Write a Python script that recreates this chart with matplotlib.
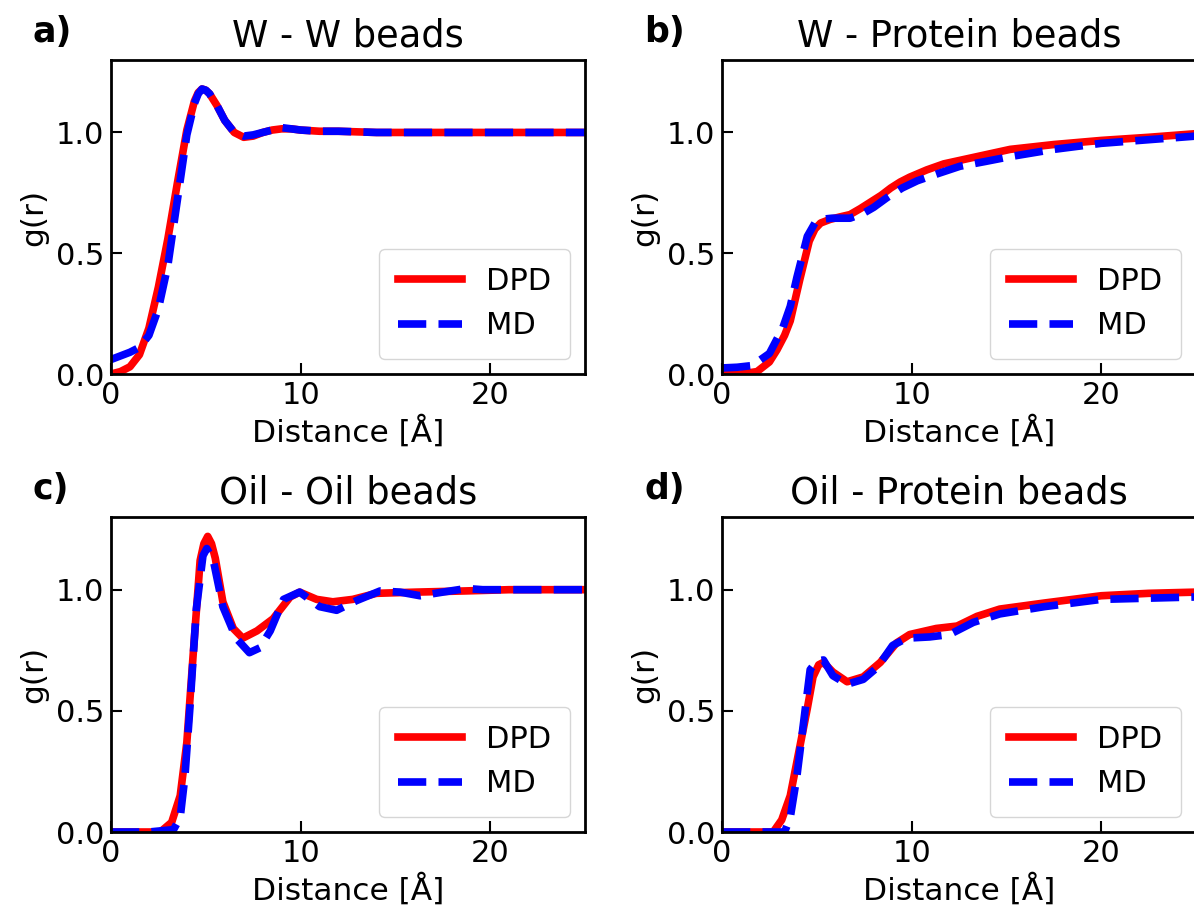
import matplotlib
matplotlib.use("Agg")
import matplotlib.pyplot as plt

# radial distribution functions g(r)
TITLES = ["W - W beads", "W - Protein beads", "Oil - Oil beads", "Oil - Protein beads"]
PANEL_TAGS = ["a)", "b)", "c)", "d)"]

ww_dpd_r = [0, 0.5, 1.0, 1.5, 2.0, 2.5, 3.0, 3.5, 4.0, 4.4, 4.6, 4.8, 5.0, 5.2, 5.6, 6.0, 6.5,
            7.0, 7.5, 8.0, 8.5, 9.0, 9.5, 10, 11, 12, 14, 16, 18, 20, 22, 25]
ww_dpd_g = [0.0, 0.01, 0.03, 0.08, 0.19, 0.36, 0.56, 0.79, 1.01, 1.13, 1.165, 1.18, 1.175,
            1.16, 1.11, 1.05, 1.00, 0.98, 0.985, 1.0, 1.01, 1.015, 1.015, 1.01, 1.005, 1.005,
            1.0, 1.0, 1.0, 1.0, 1.0, 1.0]
ww_md_r = [0, 0.5, 1.0, 1.5, 2.0, 2.5, 3.0, 3.5, 4.0, 4.4, 4.6, 4.8, 5.0, 5.2, 5.6, 6.0, 6.5,
           7.0, 7.5, 8.0, 8.5, 9.0, 9.5, 10, 11, 12, 14, 16, 18, 20, 22, 25]
ww_md_g = [0.06, 0.075, 0.09, 0.11, 0.16, 0.27, 0.45, 0.72, 0.99, 1.12, 1.16, 1.18, 1.175,
           1.16, 1.11, 1.05, 1.0, 0.985, 0.99, 1.0, 1.01, 1.02, 1.015, 1.01, 1.005, 1.005,
           1.0, 1.0, 1.0, 1.0, 1.0, 1.0]

wp_dpd_r = [0, 1.0, 1.85, 2.5, 2.9, 3.3, 3.6, 4.1, 4.6, 4.9, 5.2, 5.7, 6.2, 6.75, 7.3, 7.8,
            8.4, 8.9, 9.4, 9.9, 10.8, 11.7, 13.45, 15.2, 17.5, 20, 22.5, 25]
wp_dpd_g = [0.0, 0.0, 0.01, 0.05, 0.1, 0.16, 0.22, 0.39, 0.55, 0.60, 0.625, 0.64, 0.65, 0.66,
            0.685, 0.71, 0.74, 0.77, 0.795, 0.815, 0.845, 0.87, 0.90, 0.93, 0.95, 0.967,
            0.98, 0.995]
wp_md_r = [0, 0.8, 1.6, 2.5, 3.2, 3.6, 3.95, 4.5, 4.9, 5.2, 5.8, 6.75, 7.45, 8.0, 8.7, 9.5,
           10.3, 11.4, 12.55, 13.9, 15.2, 17.5, 20, 22.5, 25]
wp_md_g = [0.025, 0.028, 0.035, 0.085, 0.19, 0.28, 0.40, 0.57, 0.625, 0.64, 0.645, 0.645,
           0.665, 0.69, 0.73, 0.77, 0.80, 0.83, 0.86, 0.88, 0.90, 0.93, 0.955, 0.97, 0.985]

oo_dpd_r = [0, 2.0, 2.6, 3.2, 3.65, 4.0, 4.35, 4.7, 4.9, 5.1, 5.3, 5.5, 5.9, 6.45, 6.95,
            7.7, 8.55, 9.45, 9.95, 10.85, 11.7, 12.75, 14.0, 16.1, 18.75, 21, 25]
oo_dpd_g = [0.0, 0.0, 0.0, 0.04, 0.15, 0.37, 0.75, 1.12, 1.19, 1.22, 1.19, 1.13, 0.95, 0.84,
            0.80, 0.83, 0.88, 0.97, 0.99, 0.96, 0.95, 0.96, 0.985, 0.99, 0.995, 1.0, 1.0]
oo_md_r = [0, 2.0, 3.3, 3.65, 3.9, 4.15, 4.5, 4.85, 5.05, 5.4, 5.9, 6.6, 7.3, 7.85, 8.4, 9.1,
           9.95, 11.0, 11.9, 12.95, 14.2, 15.25, 16.3, 17.5, 18.75, 19.6, 22, 25]
oo_md_g = [0.0, 0.0, 0.01, 0.06, 0.23, 0.50, 0.92, 1.14, 1.17, 1.12, 0.93, 0.80, 0.74, 0.76,
           0.83, 0.96, 0.99, 0.93, 0.915, 0.955, 0.995, 0.99, 0.975, 0.99, 1.005, 1.0, 1.0,
           1.0]

op_dpd_r = [0, 2.0, 2.7, 3.15, 3.6, 4.0, 4.5, 4.8, 5.1, 5.35, 5.85, 6.6, 7.45, 8.35, 9.2,
            9.9, 11.3, 12.4, 13.45, 14.65, 17, 20, 22.5, 25]
op_dpd_g = [0.0, 0.0, 0.0, 0.05, 0.15, 0.31, 0.51, 0.64, 0.69, 0.70, 0.66, 0.62, 0.64, 0.70,
            0.78, 0.815, 0.84, 0.85, 0.89, 0.92, 0.945, 0.975, 0.985, 0.99]
op_md_r = [0, 2.0, 3.3, 3.6, 3.95, 4.3, 4.65, 5.0, 5.35, 5.85, 6.6, 7.45, 8.2, 9.0, 9.75,
           10.95, 12.0, 13.25, 14.65, 17, 20, 22.5, 25]
op_md_g = [0.0, 0.0, 0.0, 0.06, 0.23, 0.45, 0.67, 0.705, 0.71, 0.645, 0.61, 0.63, 0.68, 0.77,
           0.80, 0.805, 0.815, 0.865, 0.90, 0.93, 0.96, 0.965, 0.97]

PANELS = [
    (ww_dpd_r, ww_dpd_g, ww_md_r, ww_md_g),
    (wp_dpd_r, wp_dpd_g, wp_md_r, wp_md_g),
    (oo_dpd_r, oo_dpd_g, oo_md_r, oo_md_g),
    (op_dpd_r, op_dpd_g, op_md_r, op_md_g),
]

W, H = 1194, 913
# axes boxes in pixels: left, top, right, bottom
BOXES = [(111, 60, 585, 374), (722, 60, 1196, 374),
         (111, 517, 585, 832), (722, 517, 1196, 832)]
TAG_POS = [(32, 42), (644, 42), (32, 499), (644, 499)]

fig = plt.figure(figsize=(W / 100, H / 100), dpi=100)

for i, (dr, dg, mr, mg) in enumerate(PANELS):
    l, t, r, b = BOXES[i]
    ax = fig.add_axes([l / W, 1 - b / H, (r - l) / W, (b - t) / H])
    ax.plot(dr, dg, color="red", lw=5.5, label="DPD", solid_joinstyle="round")
    ax.plot(mr, mg, color="blue", lw=5.5, ls="--", label="MD")
    ax.set_xlim(0, 25)
    ax.set_ylim(0, 1.3)
    ax.set_xticks([0, 10, 20])
    ax.set_yticks([0.0, 0.5, 1.0])
    ax.tick_params(direction="in", length=8, width=1.5, labelsize=22, pad=5)
    for sp in ax.spines.values():
        sp.set_linewidth(2)
    ax.set_xlabel("Distance [Å]", fontsize=22.5, labelpad=4)
    ax.set_ylabel("g(r)", fontsize=22.5, labelpad=5)
    ax.set_title(TITLES[i], fontsize=26.5, pad=10)
    ax.legend(loc="lower right", fontsize=22, handlelength=2.1, borderpad=0.6,
              borderaxespad=0.5, labelspacing=0.5)
    fig.text(TAG_POS[i][0] / W, 1 - TAG_POS[i][1] / H, PANEL_TAGS[i],
             fontsize=25, fontweight="bold")

fig.savefig("out.png", dpi=100)
